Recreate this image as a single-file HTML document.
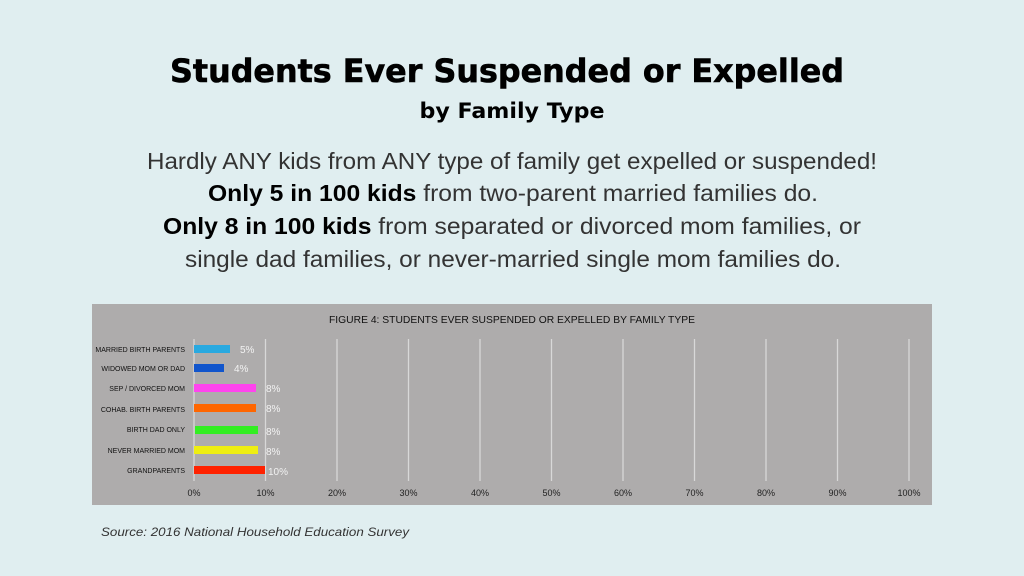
<!DOCTYPE html>
<html><head><style>body{margin:0;background:#e0eef0}svg{display:block}</style></head><body>
<svg width="1024" height="576" xmlns="http://www.w3.org/2000/svg" font-family="Liberation Sans, sans-serif">
<rect width="1024" height="576" fill="#e0eef0"/>
<text x="507" y="82" text-anchor="middle" font-family="DejaVu Sans, sans-serif" font-weight="bold" font-size="32" stroke="#000" stroke-width="0.6" textLength="674" lengthAdjust="spacingAndGlyphs">Students Ever Suspended or Expelled</text>
<text x="512" y="118" text-anchor="middle" font-family="DejaVu Sans, sans-serif" font-weight="bold" font-size="21" textLength="185" lengthAdjust="spacingAndGlyphs">by Family Type</text>
<g font-size="23" fill="#333">
<text x="147" y="169" textLength="730" lengthAdjust="spacingAndGlyphs">Hardly ANY kids from ANY type of family get expelled or suspended!</text>
<text x="208" y="201" textLength="610" lengthAdjust="spacingAndGlyphs"><tspan font-weight="bold" fill="#000">Only 5 in 100 kids</tspan> from two-parent married families do.</text>
<text x="163" y="234" textLength="698" lengthAdjust="spacingAndGlyphs"><tspan font-weight="bold" fill="#000">Only 8 in 100 kids</tspan> from separated or divorced mom families, or</text>
<text x="185" y="267" textLength="656" lengthAdjust="spacingAndGlyphs">single dad families, or never-married single mom families do.</text>
</g>
<rect x="92" y="304" width="840" height="201" fill="#aeacac"/>
<text x="512" y="323" text-anchor="middle" font-size="10" fill="#111" textLength="366" lengthAdjust="spacingAndGlyphs">FIGURE 4: STUDENTS EVER SUSPENDED OR EXPELLED BY FAMILY TYPE</text>
<g stroke="#d8d8d8" stroke-width="1.3">
<line x1="194" y1="339" x2="194" y2="481"/><line x1="265.5" y1="339" x2="265.5" y2="481"/><line x1="337" y1="339" x2="337" y2="481"/><line x1="408.5" y1="339" x2="408.5" y2="481"/><line x1="480" y1="339" x2="480" y2="481"/><line x1="551.5" y1="339" x2="551.5" y2="481"/><line x1="623" y1="339" x2="623" y2="481"/><line x1="694.5" y1="339" x2="694.5" y2="481"/><line x1="766" y1="339" x2="766" y2="481"/><line x1="837.5" y1="339" x2="837.5" y2="481"/><line x1="909" y1="339" x2="909" y2="481"/>
</g>
<g font-size="9" fill="#222" text-anchor="middle">
<text x="194" y="496">0%</text><text x="265.5" y="496">10%</text><text x="337" y="496">20%</text><text x="408.5" y="496">30%</text><text x="480" y="496">40%</text><text x="551.5" y="496">50%</text><text x="623" y="496">60%</text><text x="694.5" y="496">70%</text><text x="766" y="496">80%</text><text x="837.5" y="496">90%</text><text x="909" y="496">100%</text>
</g>
<g font-size="7" fill="#111" text-anchor="end">
<text x="185" y="352">MARRIED BIRTH PARENTS</text>
<text x="185" y="371">WIDOWED MOM OR DAD</text>
<text x="185" y="391">SEP / DIVORCED MOM</text>
<text x="185" y="412">COHAB. BIRTH PARENTS</text>
<text x="185" y="432">BIRTH DAD ONLY</text>
<text x="185" y="453">NEVER MARRIED MOM</text>
<text x="185" y="473">GRANDPARENTS</text>
</g>
<rect x="194" y="345" width="36" height="8" fill="#29a9e0"/>
<rect x="194" y="364" width="30" height="8" fill="#1155cc"/>
<rect x="194" y="384" width="62" height="8" fill="#ff44ee"/>
<rect x="194" y="404" width="62" height="8" fill="#ff6600"/>
<rect x="195" y="426" width="63" height="8" fill="#33ee22"/>
<rect x="194" y="446" width="64" height="8" fill="#eeee11"/>
<rect x="194" y="466" width="71" height="8" fill="#ff2200"/>
<g font-size="10" fill="#f2f2f2">
<text x="240" y="353">5%</text><text x="234" y="372">4%</text><text x="266" y="392">8%</text><text x="266" y="412">8%</text><text x="266" y="435">8%</text><text x="266" y="455">8%</text><text x="268" y="475">10%</text>
</g>
<text x="101" y="536" font-size="12" font-style="italic" fill="#333" textLength="308" lengthAdjust="spacingAndGlyphs">Source: 2016 National Household Education Survey</text>
</svg>
</body></html>
